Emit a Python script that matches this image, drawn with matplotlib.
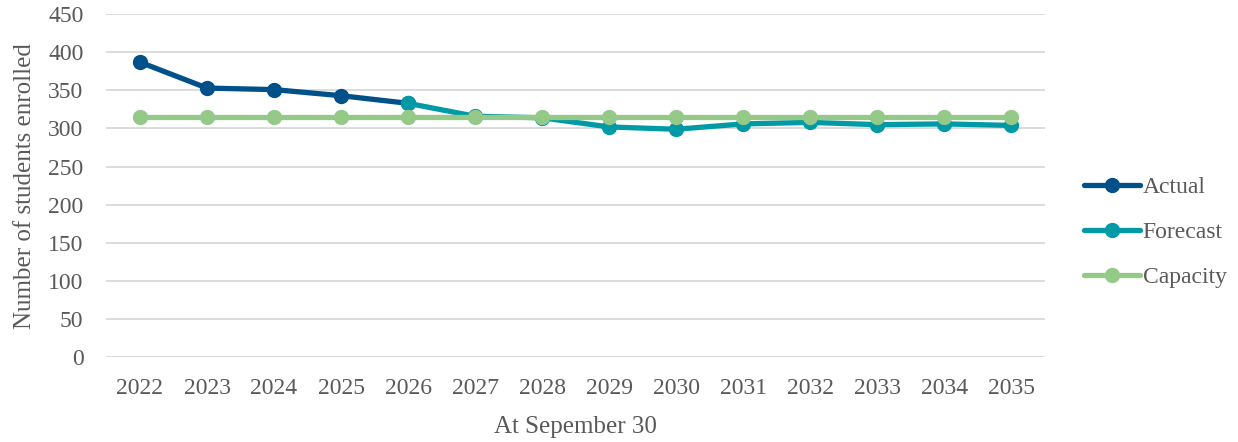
import matplotlib
matplotlib.use("Agg")
import matplotlib.pyplot as plt
import numpy as np

# =====================================================================
# Data
# =====================================================================
years = [2022, 2023, 2024, 2025, 2026, 2027, 2028, 2029, 2030, 2031, 2032, 2033, 2034, 2035]
actual = [387, 353, 351, 343, 333, None, None, None, None, None, None, None, None, None]
forecast = [None, None, None, None, 333, 316, 314, 302, 299, 306, 308, 305, 306, 304]
capacity = [315] * 14

series_names = ["Actual", "Forecast", "Capacity"]
series_colors = ["#00508A", "#009AA6", "#95C988"]

# =====================================================================
# Plot settings
# =====================================================================
plt.rcParams['font.family'] = ['Liberation Serif', 'DejaVu Serif']
FS = 17
TEXT_COLOR = "#595959"

fig = plt.figure(figsize=(12.38, 4.42), dpi=100)
ax = fig.add_axes([0.086, 0.192, 0.758, 0.776])

x = np.arange(len(years))

def to_arr(vals):
  return np.array([np.nan if v is None else v for v in vals], dtype=float)

for name, vals, color in zip(series_names, [actual, forecast, capacity], series_colors):
  ax.plot(x, to_arr(vals), color=color, lw=3.8, marker="o", ms=10,
          label=name, solid_capstyle="round", solid_joinstyle="round")

ax.set_xlim(-0.5, len(years) - 0.5)
ax.set_ylim(0, 450)
ax.set_yticks(np.arange(0, 451, 50))
ax.set_xticks(x)
ax.set_xticklabels([str(y) for y in years])

ax.grid(axis="y", color="#D9D9D9", lw=1.3)
ax.set_axisbelow(True)
for s in ax.spines.values():
  s.set_visible(False)
ax.tick_params(length=0, colors=TEXT_COLOR, labelsize=FS)
ax.tick_params(axis="x", pad=15)
ax.tick_params(axis="y", pad=16.5)

ax.set_xlabel("At Sepember 30", color=TEXT_COLOR, fontsize=FS + 1, labelpad=12)
ax.set_ylabel("Number of students enrolled", color=TEXT_COLOR, fontsize=FS + 1, labelpad=9)

leg = fig.legend(loc="center left", bbox_to_anchor=(0.876, 0.474), frameon=False,
                 borderpad=0, borderaxespad=0,
                 handlelength=2.33, handletextpad=0.13, labelspacing=1.0, fontsize=FS)
for t in leg.get_texts():
  t.set_color(TEXT_COLOR)

fig.savefig("out.png", dpi=100)
